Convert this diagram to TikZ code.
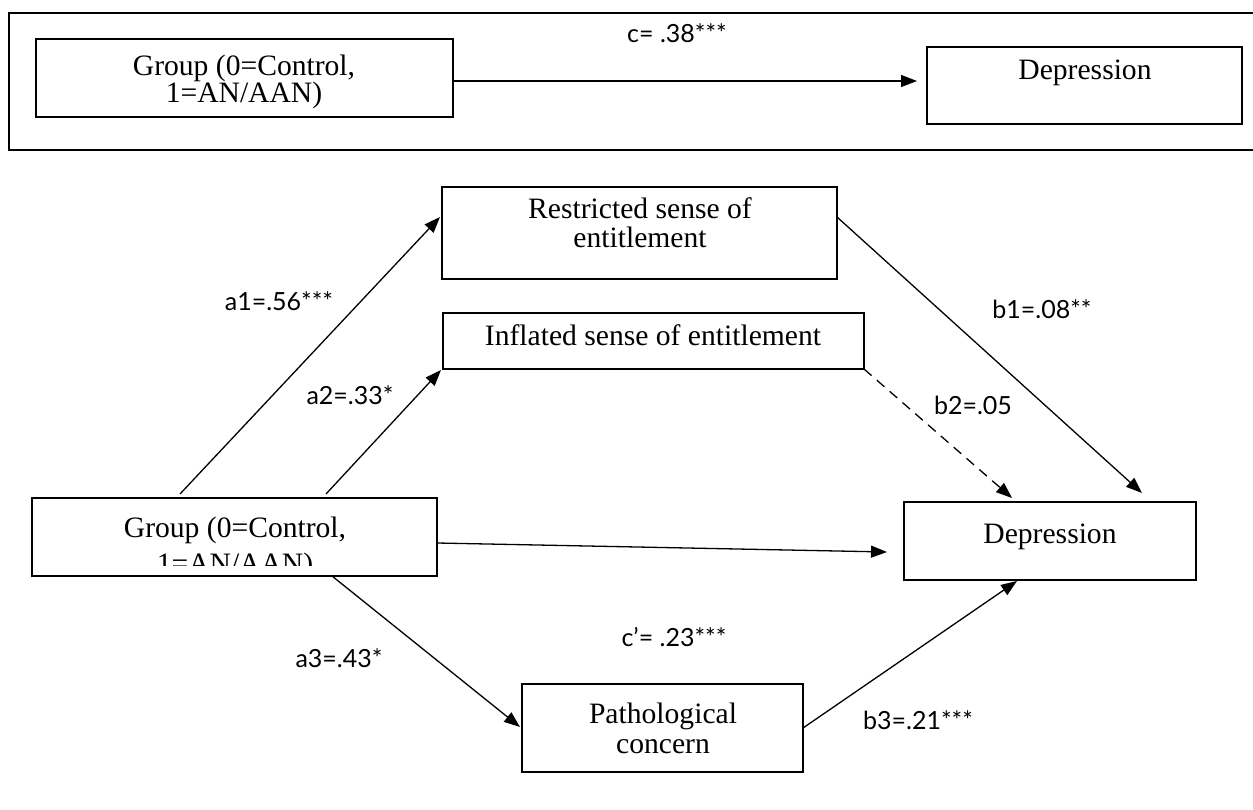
\documentclass[tikz,border=0pt]{standalone}
\usepackage{fontspec}
\setmainfont{Liberation Serif}
\newfontfamily\labelfont{Lato}
\usetikzlibrary{arrows.meta,calc}
\begin{document}
\begin{tikzpicture}[x=1pt,y=-1pt,
  box/.style={draw, line width=1.6pt, inner sep=0pt, outer sep=0pt},
  txt/.style={font=\fontsize{29.6}{29}\selectfont, anchor=base, inner sep=0pt},
  lab/.style={font=\labelfont\fontsize{25}{28}\selectfont, anchor=base, inner sep=0pt},
  arr/.style={-{Triangle[length=16pt,width=12pt]}, line width=1.3pt},
  dasharr/.style={arr, dash pattern=on 10pt off 7pt}]
\useasboundingbox (0,0) rectangle (1253,810);

% top panel frame (open at right edge)
\draw[line width=2pt] (1260,13) -- (9,13) -- (9,150) -- (1260,150);

% ---------- top panel ----------
\node[box, minimum width=417pt, minimum height=78pt] (g1) at (244.5,78) {};
\node[txt] (g1t1) at (244,76) {Group (0=Control,};
\node[txt] (g1t2) at (244,103) {1=AN/AAN)};
\node[box, minimum width=315pt, minimum height=77pt] (d1) at (1084.5,85.5) {};
\node[txt] (d1t) at (1085,80) {Depression};
\draw[arr] ($(g1.east)+(0,3)$) -- ($(d1.west)+(-10,-4.5)$);
\node[lab] (lc) at (677,43) {c= .38***};

% ---------- bottom panel ----------
\node[box, minimum width=395pt, minimum height=92pt] (r) at (639.5,233) {};
\node[txt] (rt1) at (640,219) {Restricted sense of};
\node[txt] (rt2) at (640,248) {entitlement};

\node[box, minimum width=421pt, minimum height=56pt] (i) at (653.5,341) {};
\node[txt] (it) at (653,345) {Inflated sense of entitlement};

\node[box, minimum width=405pt, minimum height=78pt] (g2) at (234.5,537) {};
\node[txt] (g2t1) at (235,537) {Group (0=Control,};
\begin{scope}
  \clip (32,545) rectangle (437,565);
  \node[txt] (g2t2) at (235,573) {1=AN/AAN)};
\end{scope}

\node[box, minimum width=292pt, minimum height=78pt] (d2) at (1050,541) {};
\node[txt] (d2t) at (1050,543) {Depression};

\node[box, minimum width=281pt, minimum height=88pt] (p) at (662.5,728) {};
\node[txt] (pt1) at (663,723) {Pathological};
\node[txt] (pt2) at (663,753) {concern};

% connectors
\draw[arr] ($(g2.north west)+(148,-4)$) -- ($(r.north west)+(-2,30)$);
\draw[arr] ($(g2.north west)+(294,-4)$) -- ($(i.south west)+(-2,1)$);
\draw[arr] ($(g2.south west)+(300,0)$) -- ($(p.west)+(-2,-1)$);
\draw[arr] ($(g2.east)+(0,6)$) -- ($(d2.west)+(-17,11)$);
\draw[arr] ($(r.north east)+(0,30)$) -- ($(d2.north west)+(238,-9)$);
\draw[dasharr] (i.south east) -- ($(d2.north west)+(108,-4)$);
\draw[arr] (p.east) -- ($(d2.south west)+(113,1)$);

% labels
\node[lab] (la1) at (279,311) {a1=.56***};
\node[lab] (la2) at (350,404) {a2=.33*};
\node[lab] (lb1) at (1042,319) {b1=.08**};
\node[lab] (lb2) at (973,414) {b2=.05};
\node[lab] (lcp) at (674,646) {c’= .23***};
\node[lab] (la3) at (339,667) {a3=.43*};
\node[lab] (lb3) at (918,729) {b3=.21***};
\end{tikzpicture}
\end{document}
